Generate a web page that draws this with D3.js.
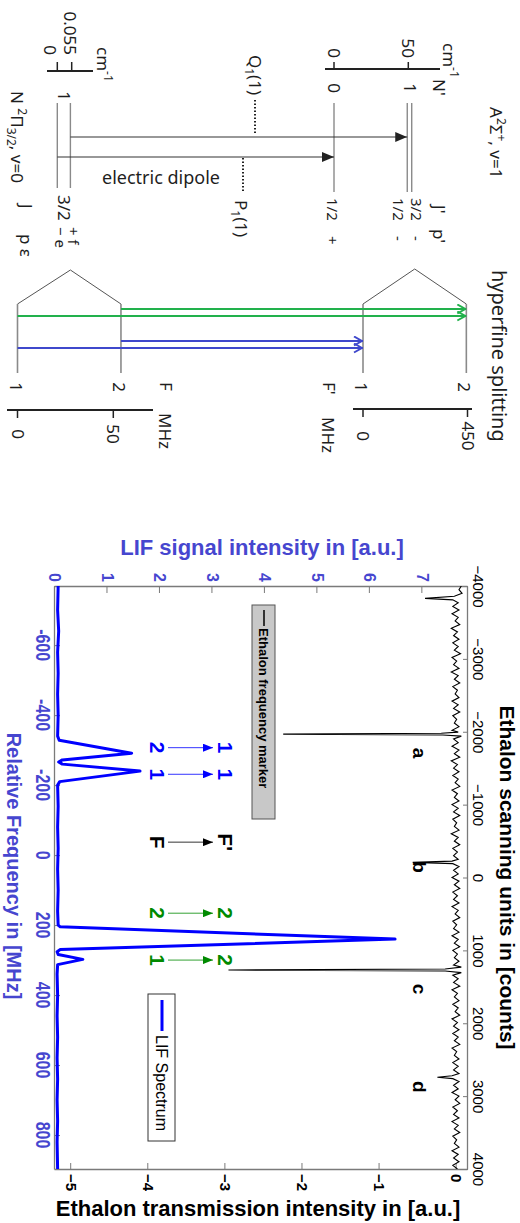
<!DOCTYPE html>
<meta charset="utf-8">
<style>
body { margin: 0; background: #fff; }
svg { display: block; }
.dia text { font-family: "Noto Sans", "Open Sans", sans-serif; font-size: 17px; fill: #1e1e1e; }
.plot text { font-family: "Liberation Sans", Arial, sans-serif; }
</style>
<svg width="520" height="1223"></svg>
<script src="https://d3js.org/d3.v7.min.js"></script>
<script>

// ---------- spectrum data ----------
var freqTicks = [-600, -400, -200, 0, 200, 400, 600, 800];
var lifTicks = [0, 1, 2, 3, 4, 5, 6, 7];
var countTicks = [-4000, -3000, -2000, -1000, 0, 1000, 2000, 3000, 4000];
var transTicks = [-5, -4, -3, -2, -1, 0];

// relative frequency [MHz], LIF intensity [a.u.]
var lifSpectrum = [
  [-769, 0.06], [-700, 0.05], [-640, 0.07], [-580, 0.05], [-520, 0.06], [-460, 0.05],
  [-400, 0.06], [-340, 0.05], [-328, 0.08], [-291, 1.46], [-272, 0.14], [-266, 0.07],
  [-260, 0.14], [-240, 1.62], [-210, 0.09], [-200, 0.05], [-140, 0.06], [-80, 0.05],
  [-20, 0.06], [40, 0.05], [100, 0.06], [160, 0.05], [200, 0.06], [205, 0.10],
  [240, 6.48], [270, 0.10], [276, 0.04], [284, 0.06], [298, 0.53], [313, 0.05],
  [340, 0.04], [400, 0.05], [460, 0.04], [520, 0.05], [580, 0.04], [640, 0.05],
  [700, 0.04], [760, 0.05], [820, 0.04], [897, 0.05]
];

// ethalon counts, transmission [a.u.]
var ethalonTrace = [
  [-4000, 0.06], [-3950, 0.03], [-3900, 0.07], [-3860, -0.03], [-3830, -0.41], [-3810, -0.05],
  [-3770, 0.02], [-3720, -0.05], [-3670, 0.03], [-3620, -0.06], [-3570, 0.02], [-3520, -0.02],
  [-3470, 0.04], [-3420, -0.07], [-3370, 0.01], [-3320, -0.04], [-3270, 0.03], [-3220, -0.05],
  [-3170, 0.02], [-3120, -0.03], [-3070, 0.05], [-3020, -0.06], [-2970, 0.00], [-2920, -0.04],
  [-2870, 0.03], [-2820, -0.07], [-2770, 0.02], [-2720, -0.03], [-2670, 0.04], [-2620, -0.05],
  [-2570, 0.01], [-2520, -0.02], [-2470, 0.03], [-2420, -0.06], [-2370, 0.02], [-2320, -0.04],
  [-2270, 0.04], [-2220, -0.05], [-2170, 0.00], [-2120, -0.03], [-2070, 0.03], [-2020, -0.06],
  [-1995, 0.02], [-1980, -0.20], [-1968, -2.25], [-1955, -0.18], [-1940, 0.06], [-1900, -0.04],
  [-1850, 0.02], [-1800, -0.06], [-1750, 0.03], [-1700, -0.03], [-1650, 0.04], [-1600, -0.07],
  [-1550, 0.01], [-1500, -0.04], [-1450, 0.03], [-1400, -0.05], [-1350, 0.02], [-1300, -0.02],
  [-1250, 0.04], [-1200, -0.06], [-1150, 0.01], [-1100, -0.03], [-1050, 0.03], [-1000, -0.06],
  [-950, 0.02], [-900, -0.04], [-850, 0.04], [-800, -0.05], [-750, 0.00], [-700, -0.03],
  [-650, 0.03], [-600, -0.07], [-550, 0.02], [-500, -0.03], [-450, 0.04], [-400, -0.05],
  [-350, 0.01], [-300, -0.04], [-250, 0.02], [-225, -0.06], [-207, -0.57], [-190, -0.05],
  [-150, 0.03], [-100, -0.04], [-50, 0.02], [0, -0.06], [50, 0.03], [100, -0.03],
  [150, 0.04], [200, -0.05], [250, 0.01], [300, -0.04], [350, 0.03], [400, -0.06],
  [450, 0.02], [500, -0.02], [550, 0.04], [600, -0.05], [650, 0.00], [700, -0.04],
  [750, 0.03], [800, -0.06], [850, 0.02], [900, -0.03], [950, 0.04], [1000, -0.05],
  [1050, 0.01], [1100, -0.03], [1150, 0.03], [1200, -0.04], [1230, 0.06], [1255, -0.15],
  [1269, -2.96], [1283, -0.15], [1305, 0.06], [1340, -0.05], [1390, 0.02], [1440, -0.04],
  [1490, 0.04], [1540, -0.06], [1590, 0.01], [1640, -0.03], [1690, 0.03], [1740, -0.05],
  [1790, 0.02], [1840, -0.02], [1890, 0.04], [1940, -0.06], [1990, 0.01], [2040, -0.04],
  [2090, 0.03], [2140, -0.05], [2190, 0.02], [2240, -0.03], [2290, 0.04], [2340, -0.06],
  [2390, 0.00], [2440, -0.03], [2490, 0.03], [2540, -0.05], [2590, 0.02], [2640, -0.04],
  [2690, 0.03], [2720, -0.06], [2741, -0.25], [2760, -0.05], [2800, 0.03], [2850, -0.04],
  [2900, 0.02], [2950, -0.06], [3000, 0.03], [3050, -0.02], [3100, 0.04], [3150, -0.05],
  [3200, 0.01], [3250, -0.04], [3300, 0.03], [3350, -0.06], [3400, 0.02], [3450, -0.03],
  [3500, 0.04], [3550, -0.05], [3600, 0.00], [3650, -0.03], [3700, 0.03], [3750, -0.06],
  [3800, 0.02], [3850, -0.04], [3900, 0.03], [3950, -0.05], [4000, 0.01]
];

var peakLetters = ["a", "b", "c", "d"];
var peakLetterCounts = [-1709, -145, 1529, 2873];

// hyperfine assignments written over the LIF peaks (frequency in MHz)
var assignFreq = [-307, -231, -37, 166, 300];
var assignLower = ["2", "1", "F", "2", "1"];
var assignUpper = ["1", "1", "F'", "2", "2"];
var assignColor = ["#0000ff", "#0000ff", "#000000", "#008a00", "#008a00"];

// ---------- level scheme data ----------
var upperLevels = [
  {N: "1", J: "3/2", p: "-", E: 52.3},
  {N: "1", J: "1/2", p: "-", E: 49.3},
  {N: "0", J: "1/2", p: "+", E: 0}
];
var lowerLevels = [
  {J: "3/2", p: "+", eps: "f", E: 0.05},
  {J: "3/2", p: "\u2212", eps: "e", E: 0}
];
var lowerHfs = [{F: "1", E: 0}, {F: "2", E: 54}];
var upperHfs = [{F: "1", E: 0}, {F: "2", E: 445}];
var hfsFrom = ["2", "1", "2", "1"];
var hfsTo = ["2", "2", "1", "1"];
var hfsColor = ["#22b14c", "#22b14c", "#3f48cc", "#3f48cc"];
var branchLower = [0, 1];
var branchUpper = [1, 2];

var svg = d3.select("svg");
var defs = svg.append("defs");

// the whole figure is laid out in landscape and turned a quarter clockwise
var fig = svg.append("g").attr("transform", "translate(520,0) rotate(90)");

function marker(id, d, fill, stroke, len, wid) {
  defs.append("marker")
      .attr("id", id)
      .attr("viewBox", "0 " + (-wid / 2) + " " + len + " " + wid)
      .attr("refX", len).attr("refY", 0)
      .attr("markerUnits", "userSpaceOnUse")
      .attr("markerWidth", len).attr("markerHeight", wid)
      .attr("orient", "auto")
    .append("path")
      .attr("d", d)
      .attr("fill", fill)
      .attr("stroke", stroke)
      .attr("stroke-width", stroke == "none" ? 0 : 2);
}
marker("tri", "M0,-5L12,0L0,5Z", "#222", "none", 12, 10);
marker("chevG", "M1,-4.5L9,0L1,4.5", "none", "#22b14c", 10, 11);
marker("chevB", "M1,-4.5L9,0L1,4.5", "none", "#3f48cc", 10, 11);
marker("smallB", "M0,-4L10,0L0,4Z", "#0000ff", "none", 10, 8);
marker("smallK", "M0,-4L10,0L0,4Z", "#000000", "none", 10, 8);
marker("smallG", "M0,-4L10,0L0,4Z", "#008a00", "none", 10, 8);

/************* LEVEL SCHEME ***************/
var dia = fig.append("g").attr("class", "dia");
var grey = "#8a8a8a";

var upperE = d3.scaleLinear().domain([0, 50]).range([186, 111.7]);
var lowerE = d3.scaleLinear().domain([0, 0.055]).range([462.7, 448.3]);
var lowerHf = d3.scaleLinear().domain([0, 50]).range([502.5, 406.7]);
var upperHf = d3.scaleLinear().domain([0, 450]).range([157, 52.5]);

// energy rulers
dia.append("line").attr("x1", 69).attr("x2", 69).attr("y1", 80).attr("y2", 195)
    .attr("stroke", "#222").attr("stroke-width", 2);
dia.selectAll(".utick").data([0, 50]).join("line")
    .attr("x1", 62).attr("x2", 69).attr("y1", upperE).attr("y2", upperE)
    .attr("stroke", "#222").attr("stroke-width", 1.5);
dia.selectAll(".ulab").data([0, 50]).join("text")
    .attr("x", 58).attr("y", d => upperE(d) + 6).attr("text-anchor", "end").text(d => d);
dia.append("text").attr("x", 43).attr("y", 77).html("cm<tspan dy='-7' font-size='12'>-1</tspan>");

dia.append("line").attr("x1", 71).attr("x2", 71).attr("y1", 427).attr("y2", 473)
    .attr("stroke", "#222").attr("stroke-width", 2);
dia.selectAll(".ltick").data([0, 0.055]).join("line")
    .attr("x1", 62).attr("x2", 71).attr("y1", lowerE).attr("y2", lowerE)
    .attr("stroke", "#222").attr("stroke-width", 1.5);
dia.append("text").attr("x", 55).attr("y", 456).attr("text-anchor", "end").text("0.055");
dia.append("text").attr("x", 55).attr("y", 476).attr("text-anchor", "end").text("0");
dia.append("text").attr("x", 47).attr("y", 423).html("cm<tspan dy='-7' font-size='12'>-1</tspan>");

// state names and column heads
dia.append("text").attr("x", 107).attr("y", 30)
    .html("A<tspan dy='-7' font-size='12'>2</tspan><tspan dy='7'>\u03a3</tspan><tspan dy='-7' font-size='12'>+</tspan><tspan dy='7'>, v=1</tspan>");
dia.append("text").attr("x", 91).attr("y", 509)
    .html("N <tspan dy='-7' font-size='12'>2</tspan><tspan dy='7'>\u03a0</tspan><tspan dy='4' font-size='12'>3/2</tspan><tspan dy='-4'>, v=0</tspan>");
dia.append("text").attr("x", 79).attr("y", 87).text("N'");
dia.append("text").attr("x", 205).attr("y", 87).text("J'");
dia.append("text").attr("x", 229).attr("y", 87).text("p'");
dia.append("text").attr("x", 204).attr("y", 500).text("J");
dia.append("text").attr("x", 234).attr("y", 500).text("p \u03b5");

// fine structure levels
var upperJdy = [1, 14, 7];
dia.selectAll(".ulev").data(upperLevels).join("line")
    .attr("x1", 103).attr("x2", 192).attr("y1", d => upperE(d.E)).attr("y2", d => upperE(d.E))
    .attr("stroke", grey).attr("stroke-width", 1.4);
dia.selectAll(".uJ").data(upperLevels).join("text")
    .attr("x", 198).attr("y", (d, i) => upperE(d.E) + upperJdy[i]).style("font-size", "15px").text(d => d.J);
dia.selectAll(".up").data(upperLevels).join("text")
    .attr("x", 236).attr("y", (d, i) => upperE(d.E) + upperJdy[i]).style("font-size", "15px").text(d => d.p);
dia.append("text").attr("x", 88).attr("y", upperE(50.8) + 6).attr("text-anchor", "middle").text("1");
dia.append("text").attr("x", 88).attr("y", upperE(0) + 6).attr("text-anchor", "middle").text("0");

dia.selectAll(".llev").data(lowerLevels).join("line")
    .attr("x1", 103).attr("x2", 188).attr("y1", d => lowerE(d.E)).attr("y2", d => lowerE(d.E))
    .attr("stroke", grey).attr("stroke-width", 1.4);
dia.append("text").attr("x", 96).attr("y", lowerE(0.025) + 6).attr("text-anchor", "middle").text("1");
dia.append("text").attr("x", 195).attr("y", lowerE(0.025) + 6).text("3/2");
dia.selectAll(".lp").data(lowerLevels).join("text")
    .attr("x", 227).attr("y", d => lowerE(d.E) + 2).style("font-size", "15px")
    .text(d => d.p + " " + d.eps);

// electric dipole transitions
[137, 157].forEach(function(u, i) {
  var lo = lowerLevels[branchLower[i]], up = upperLevels[branchUpper[i]];
  dia.append("line").attr("x1", u).attr("x2", u)
      .attr("y1", lowerE(lo.E)).attr("y2", upperE(up.E))
      .attr("stroke", "#333").attr("stroke-width", 1.2).attr("marker-end", "url(#tri)");
});
dia.append("line").attr("x1", 100).attr("x2", 135).attr("y1", 265).attr("y2", 265)
    .attr("stroke", "#222").attr("stroke-width", 2).attr("stroke-dasharray", "1.5,2");
dia.append("line").attr("x1", 158).attr("x2", 192).attr("y1", 277).attr("y2", 277)
    .attr("stroke", "#222").attr("stroke-width", 2).attr("stroke-dasharray", "1.5,2");
dia.append("text").attr("x", 95).attr("y", 271).attr("text-anchor", "end")
    .html("Q<tspan dy='4' font-size='12'>1</tspan><tspan dy='-4'>(1)</tspan>");
dia.append("text").attr("x", 200).attr("y", 285)
    .html("P<tspan dy='4' font-size='12'>1</tspan><tspan dy='-4'>(1)</tspan>");
dia.append("text").attr("transform", "translate(184,359) rotate(-90)")
    .attr("text-anchor", "middle").style("font-size", "18px").text("electric dipole");

// hyperfine splitting
var tent = "#555";
dia.append("polyline")
    .attr("points", [[304, lowerHf(lowerHfs[0].E)], [270, lowerE(lowerLevels[0].E)], [304, lowerHf(lowerHfs[1].E)]].join(" "))
    .attr("fill", "none").attr("stroke", tent).attr("stroke-width", 1);
dia.append("polyline")
    .attr("points", [[304, upperHf(upperHfs[0].E)], [269, upperE(upperLevels[0].E) - 3], [304, upperHf(upperHfs[1].E)]].join(" "))
    .attr("fill", "none").attr("stroke", tent).attr("stroke-width", 1);

dia.selectAll(".lhf").data(lowerHfs.concat(upperHfs)).join("line")
    .attr("x1", 304).attr("x2", 373)
    .attr("y1", (d, i) => i < 2 ? lowerHf(d.E) : upperHf(d.E))
    .attr("y2", (d, i) => i < 2 ? lowerHf(d.E) : upperHf(d.E))
    .attr("stroke", grey).attr("stroke-width", 1.6);
dia.selectAll(".hfF").data(lowerHfs.concat(upperHfs)).join("text")
    .attr("x", 387).attr("y", (d, i) => (i < 2 ? lowerHf(d.E) : upperHf(d.E)) + 8)
    .attr("text-anchor", "middle").text(d => d.F);

var hfsU = [309, 316, 341, 348];
hfsFrom.forEach(function(f, i) {
  var lo = lowerHfs.find(d => d.F == f), up = upperHfs.find(d => d.F == hfsTo[i]);
  dia.append("line").attr("x1", hfsU[i]).attr("x2", hfsU[i])
      .attr("y1", lowerHf(lo.E)).attr("y2", upperHf(up.E))
      .attr("stroke", hfsColor[i]).attr("stroke-width", 2.2)
      .attr("marker-end", i < 2 ? "url(#chevG)" : "url(#chevB)");
});

dia.append("text").attr("x", 382).attr("y", 360).text("F");
dia.append("text").attr("x", 382).attr("y", 197).text("F'");
dia.append("text").attr("x", 413).attr("y", 361).text("MHz");
dia.append("text").attr("x", 417).attr("y", 198).text("MHz");

dia.append("line").attr("x1", 410).attr("x2", 410).attr("y1", 367).attr("y2", 513)
    .attr("stroke", "#222").attr("stroke-width", 2);
dia.selectAll(".lhft").data([0, 50]).join("line")
    .attr("x1", 410).attr("x2", 418).attr("y1", lowerHf).attr("y2", lowerHf)
    .attr("stroke", "#222").attr("stroke-width", 1.5);
dia.selectAll(".lhfl").data([0, 50]).join("text")
    .attr("x", 434).attr("y", d => lowerHf(d) + 6).attr("text-anchor", "middle").text(d => d);

dia.append("line").attr("x1", 409).attr("x2", 409).attr("y1", 48).attr("y2", 167)
    .attr("stroke", "#222").attr("stroke-width", 2);
dia.selectAll(".uhft").data([0, 450]).join("line")
    .attr("x1", 409).attr("x2", 417).attr("y1", upperHf).attr("y2", upperHf)
    .attr("stroke", "#222").attr("stroke-width", 1.5);
dia.selectAll(".uhfl").data([0, 450]).join("text")
    .attr("x", 436).attr("y", d => upperHf(d) + 6).attr("text-anchor", "middle").text(d => d);

dia.append("text").attr("x", 270).attr("y", 28).style("font-size", "20px").text("hyperfine splitting");

/************* SPECTRUM ***************/
var plot = fig.append("g").attr("class", "plot");
var box = {left: 586, right: 1169, top: 52, bottom: 465};
var blueText = "#4646cf";
var frame = "#7a7a7a";

var x = d3.scaleLinear().domain([-769, 897]).range([box.left, box.right]);
var xTop = d3.scaleLinear().domain([-4000, 4000]).range([box.left, box.right]);
var yL = d3.scaleLinear().domain([0, 7.87]).range([box.bottom, box.top]);
var yR = d3.scaleLinear().domain([-5.21, 0.147]).range([box.bottom, box.top]);

defs.append("clipPath").attr("id", "clip").append("rect")
    .attr("x", box.left).attr("y", box.top)
    .attr("width", box.right - box.left).attr("height", box.bottom - box.top);

function styleAxis(g) {
  g.select(".domain").attr("stroke", frame).attr("stroke-width", 1.3);
  g.selectAll(".tick line").attr("stroke", frame);
}

plot.append("g").attr("transform", "translate(0," + box.bottom + ")")
    .call(d3.axisBottom(x).tickValues(freqTicks).tickSizeInner(-5).tickSizeOuter(0).tickFormat(""))
    .call(styleAxis);
plot.append("g").attr("transform", "translate(0," + box.top + ")")
    .call(d3.axisTop(xTop).tickValues(countTicks).tickSizeInner(-5).tickSizeOuter(0).tickPadding(5)
      .tickFormat(d3.format("d")))
    .call(styleAxis)
    .selectAll("text").style("font-size", "15px").attr("fill", "#000");
plot.append("g").attr("transform", "translate(" + box.left + ",0)")
    .call(d3.axisLeft(yL).tickValues(lifTicks).tickSizeInner(-7).tickSizeOuter(0).tickPadding(4))
    .call(styleAxis)
    .selectAll("text").style("font-size", "16px").style("font-weight", "bold").attr("fill", blueText);
plot.append("g").attr("transform", "translate(" + box.right + ",0)")
    .call(d3.axisRight(yR).tickValues(transTicks).tickSizeInner(-6).tickSizeOuter(0).tickPadding(5)
      .tickFormat(d3.format("d")))
    .call(styleAxis)
    .selectAll("text").style("font-size", "15px").style("font-weight", "bold").attr("fill", "#000");

// frequency labels are drawn taller than wide, as in the original
plot.selectAll(".flab").data(freqTicks).join("text")
    .attr("transform", d => "translate(" + x(d) + ",484) scale(1,1.3)")
    .attr("text-anchor", "middle").style("font-size", "16px").style("font-weight", "bold")
    .attr("fill", blueText).text(d => d);

// axis titles
plot.append("text").attr("x", (box.left + box.right) / 2).attr("y", 20)
    .attr("text-anchor", "middle").style("font-size", "21px").style("font-weight", "bold")
    .text("Ethalon scanning units in [counts]");
plot.append("text").attr("x", 866).attr("y", 513)
    .attr("text-anchor", "middle").style("font-size", "20px").style("font-weight", "bold")
    .attr("fill", blueText).text("Relative Frequency in [MHz]");
plot.append("text").attr("transform", "translate(555,258) rotate(-90)")
    .attr("text-anchor", "middle").style("font-size", "22px").style("font-weight", "bold")
    .attr("fill", blueText).text("LIF signal intensity in [a.u.]");
plot.append("text").attr("transform", "translate(1216,262) rotate(-90)")
    .attr("text-anchor", "middle").style("font-size", "22px").style("font-weight", "bold")
    .text("Ethalon transmission intensity in [a.u.]");

// traces
var data = plot.append("g").attr("clip-path", "url(#clip)");
data.append("path").datum(ethalonTrace)
    .attr("d", d3.line().x(d => xTop(d[0])).y(d => yR(d[1])))
    .attr("fill", "none").attr("stroke", "#000").attr("stroke-width", 1.1);
data.append("path").datum(lifSpectrum)
    .attr("d", d3.line().x(d => x(d[0])).y(d => yL(d[1])))
    .attr("fill", "none").attr("stroke", "#0000ff").attr("stroke-width", 3)
    .attr("stroke-linejoin", "round");

plot.selectAll(".peak").data(peakLetters).join("text")
    .attr("x", (d, i) => xTop(peakLetterCounts[i])).attr("y", 107)
    .attr("text-anchor", "middle").style("font-size", "19px").style("font-weight", "bold")
    .text(d => d);

// assignments F -> F'
var markers = {"#0000ff": "url(#smallB)", "#000000": "url(#smallK)", "#008a00": "url(#smallG)"};
assignFreq.forEach(function(f, i) {
  var u = x(f);
  plot.append("text").attr("x", u).attr("y", 370).attr("text-anchor", "middle")
      .style("font-size", "21px").style("font-weight", "bold").attr("fill", assignColor[i])
      .text(assignLower[i]);
  plot.append("line").attr("x1", u).attr("x2", u).attr("y1", 352).attr("y2", 307)
      .attr("stroke", assignColor[i]).attr("stroke-width", 1).attr("stroke-opacity", 0.8)
      .attr("marker-end", markers[assignColor[i]]);
  plot.append("text").attr("x", u).attr("y", 302).attr("text-anchor", "middle")
      .style("font-size", "21px").style("font-weight", "bold").attr("fill", assignColor[i])
      .text(assignUpper[i]);
});

/************* LEGENDS ***************/
var leg1 = plot.append("g");
leg1.append("rect").attr("x", 605).attr("y", 245).attr("width", 214).attr("height", 23)
    .attr("fill", "#c8c8c8").attr("stroke", "#555");
leg1.append("line").attr("x1", 610).attr("x2", 626).attr("y1", 256).attr("y2", 256)
    .attr("stroke", "#000").attr("stroke-width", 1.5);
leg1.append("text").attr("x", 628).attr("y", 261).style("font-size", "13px").style("font-weight", "bold")
    .text("Ethalon frequency marker");

var leg2 = plot.append("g");
leg2.append("rect").attr("x", 994).attr("y", 345).attr("width", 147).attr("height", 27)
    .attr("fill", "#fff").attr("stroke", "#333");
leg2.append("line").attr("x1", 1000).attr("x2", 1031).attr("y1", 358).attr("y2", 358)
    .attr("stroke", "#0000ff").attr("stroke-width", 3);
leg2.append("text").attr("x", 1035).attr("y", 364).style("font-size", "16px")
    .text("LIF Spectrum");

</script>
